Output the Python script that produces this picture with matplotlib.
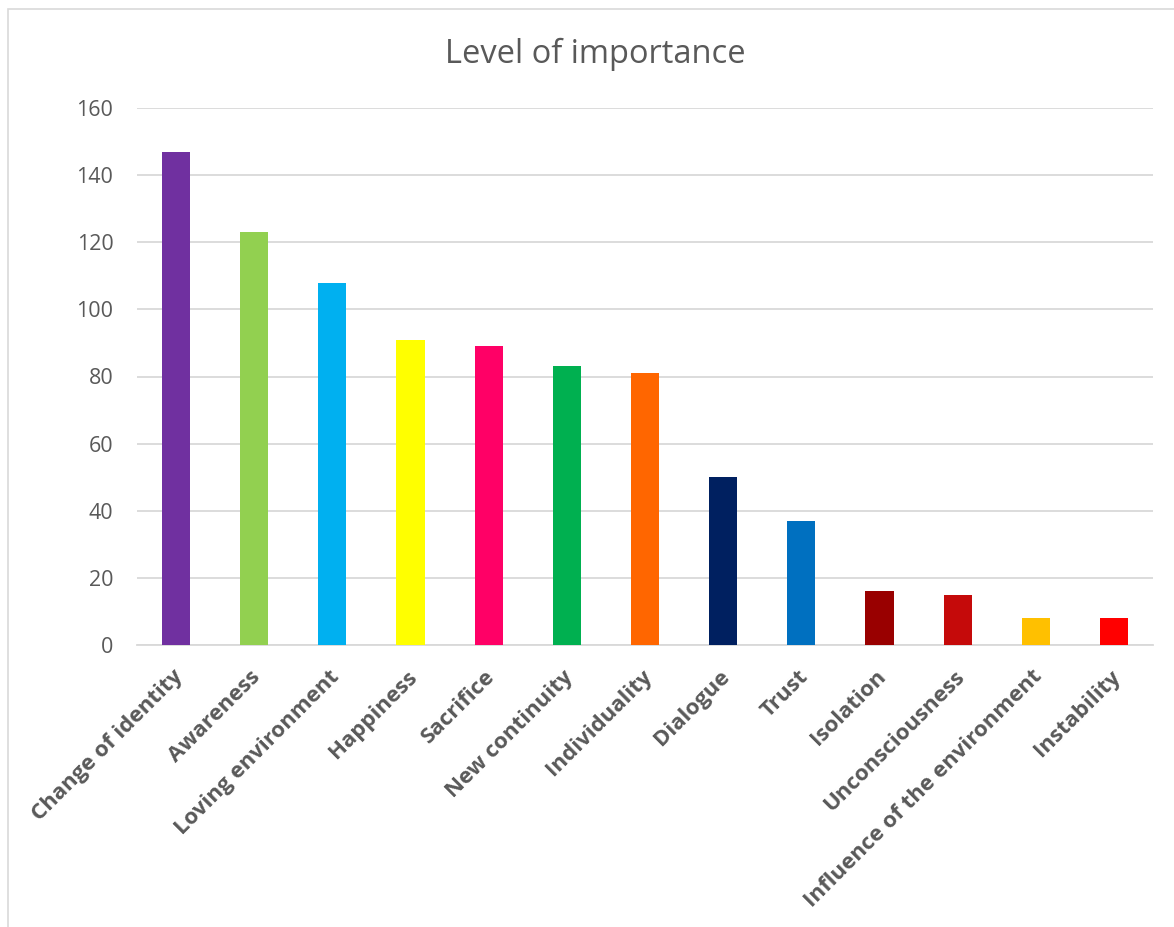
import matplotlib
matplotlib.use("Agg")
import matplotlib.pyplot as plt
from matplotlib.patches import Rectangle
from matplotlib.transforms import ScaledTranslation

categories = ["Change of identity", "Awareness", "Loving environment", "Happiness",
              "Sacrifice", "New continuity", "Individuality", "Dialogue", "Trust",
              "Isolation", "Unconsciousness", "Influence of the environment", "Instability"]
values = [147, 123, 108, 91, 89, 83, 81, 50, 37, 16, 15, 8, 8]
colors = ["#7030A0", "#92D050", "#00B0F0", "#FFFF00", "#FF0066", "#00B050", "#FF6600",
          "#002060", "#0070C0", "#990000", "#C50A0A", "#FFC000", "#FF0000"]
yticks = [0, 20, 40, 60, 80, 100, 120, 140, 160]

plt.rcParams['font.family'] = ['Open Sans', 'DejaVu Sans']
TXT = "#595959"
GRID = "#D9D9D9"

fig = plt.figure(figsize=(11.74, 9.27), dpi=100)
fig.patches.append(Rectangle((8/1174, -0.01), 1.2, 1 - 9/927 + 0.01, transform=fig.transFigure,
                             fill=False, edgecolor=GRID, linewidth=1.2))
ax = fig.add_axes([137/1174, 1 - 645/927, (1153-137)/1174, (645-108)/927])
x = list(range(len(categories)))
ax.bar(x, values, width=0.36, color=colors, zorder=3)
ax.set_xlim(-0.5, len(categories) - 0.5)
ax.set_ylim(0, 160)
ax.set_yticks(yticks)
ax.set_yticklabels([str(v) for v in yticks], fontsize=15.5, color=TXT)
ax.yaxis.grid(True, color=GRID, linewidth=1.3, zorder=0)
for s in ["top", "right", "left"]:
    ax.spines[s].set_visible(False)
ax.spines["bottom"].set_color(GRID)
ax.spines["bottom"].set_linewidth(1.3)
ax.tick_params(axis="both", length=0)
ax.tick_params(axis="y", pad=17)
ax.set_xticks(x)
ax.set_xticklabels(categories, rotation=45, ha="right", rotation_mode="anchor",
                   fontsize=16, fontweight="bold", color=TXT)
ax.tick_params(axis="x", pad=16)
off = ScaledTranslation(-4/100, 1/100, fig.dpi_scale_trans)
for lbl in ax.get_xticklabels():
    lbl.set_transform(lbl.get_transform() + off)
fig.text(595/1174, 1 - 54/927, "Level of importance", ha="center", va="center",
         fontsize=23.5, color=TXT)
fig.savefig("out.png", dpi=100, facecolor="white")
